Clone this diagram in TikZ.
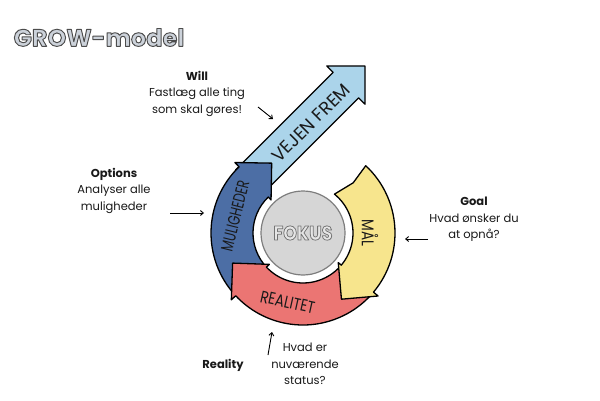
\documentclass[tikz,border=0pt]{standalone}
\usepackage{fontspec}
\setmainfont{Poppins}
\newfontfamily\handfont{Poppins}[FakeStretch=0.8]
\newfontfamily\narrowfont{Poppins}[FakeStretch=0.7]
\newfontfamily\fokfont{Poppins}[FakeStretch=0.88]
\usetikzlibrary{calc,arrows.meta}
\definecolor{lblue}{RGB}{171,212,234}
\definecolor{dblue}{RGB}{76,110,165}
\definecolor{rred}{RGB}{235,117,115}
\definecolor{yyel}{RGB}{247,229,141}
\definecolor{fokfill}{RGB}{214,214,214}
\definecolor{fokline}{RGB}{125,125,125}
\definecolor{foktext}{RGB}{230,230,230}
\definecolor{titlefill}{RGB}{204,210,218}
\definecolor{inkc}{RGB}{25,25,25}
% outlined text: fill in current colour, stroke in the given grey
\newcommand\strokedtext[3]{\special{pdf:literal direct 2 Tr #2 w 1 j #1 #1 #1 RG}#3\special{pdf:literal direct 0 Tr}}
\tikzset{
  ring/.style={draw=black, line width=1.3pt, line join=round},
  anno/.style={align=center, text=inkc, font=\fontsize{11.5}{16.5}\selectfont, inner sep=0pt},
  pointer/.style={draw=black, line width=0.9pt, -{Straight Barb[length=3pt,width=5pt]}},
  bandlabel/.style={text=inkc, inner sep=0pt, font=\handfont\fontsize{17}{17}\selectfont}
}
\begin{document}
\begin{tikzpicture}[x=1pt,y=1pt]
\useasboundingbox (0,0) rectangle (600,400);
\fill[white] (0,0) rectangle (600,400);
\coordinate (C) at (303,167);

% title
\node[text=titlefill, font=\fontsize{24}{24}\selectfont\bfseries] (title) at (99,362.5) {\strokedtext{0.3}{0.95}{GROW-model}};

% light blue arrow (VEJEN FREM)
\coordinate (T) at (365,334);
\coordinate (H) at ($(T)+(225:27)$);
\coordinate (B) at ($(T)+(225:165)$);
\draw[ring, fill=lblue] ($(B)+(135:18)$) -- ($(H)+(135:18)$) -- ($(H)+(135:27)$) -- (T)
  -- ($(H)+(315:27)$) -- ($(H)+(315:18)$) -- ($(B)+(315:18)$) -- cycle;

% dark blue arc (MULIGHEDER)
\draw[ring, fill=dblue] ($(C)+(223:92)$) arc[start angle=223,end angle=134,radius=92]
  -- ($(C)+(134:98)$) -- ($(C)+(134:72)+(44:26)$) -- ($(C)+(134:46)$)
  -- ($(C)+(134:50)$) arc[start angle=134,end angle=223,radius=50] -- cycle;

% red arc (REALITET)
\draw[ring, fill=rred] ($(C)+(320:92)$) arc[start angle=320,end angle=223,radius=92]
  -- ($(C)+(223:98)$) -- ($(C)+(223:72)+(133:26)$) -- ($(C)+(223:46)$)
  -- ($(C)+(223:50)$) arc[start angle=223,end angle=320,radius=50] -- cycle;

% yellow arc (MAL)
\draw[ring, fill=yyel] ($(C)+(47:92)$) arc[start angle=47,end angle=-40,radius=92]
  -- ($(C)+(-40:98)$) -- ($(C)+(-40:72)+(-130:26)$) -- ($(C)+(-40:46)$)
  -- ($(C)+(-40:50)$) arc[start angle=-40,end angle=51,radius=50]
  -- ($(C)+(45:71)$) -- cycle;

% focus circle
\node[circle, draw=fokline, line width=1.2pt, fill=fokfill, minimum size=84pt, inner sep=0pt,
  text=foktext, font=\fokfont\fontsize{20}{20}\selectfont\bfseries] (fokus) at (C) {\strokedtext{0.45}{0.75}{FOKUS}};

% labels on the arrows
\node[bandlabel, rotate=45, font=\fontsize{18}{18}\selectfont] (vejen) at (311,277) {VEJEN FREM};
\node[bandlabel, rotate=76, font=\narrowfont\fontsize{17}{17}\selectfont] (mulig) at ($(C)+(166:70)$) {MULIGHEDER};
\node[bandlabel, rotate=-12.5] (realitet) at ($(C)+(257.5:71)$) {REALITET};
\node[bandlabel, rotate=-90] (maal) at ($(C)+(0:67)$) {MÅL};

% annotations
\node[anno] (will) at (197,306.5) {\textbf{Will}\\Fastlæg alle ting\\som skal gøres!};
\node[anno] (options) at (114,209.3) {\textbf{Options}\\Analyser alle\\muligheder};
\node[anno] (goal) at (474,180.3) {\textbf{Goal}\\Hvad ønsker du\\at opnå?};
\node[anno] (reality) at (223,35) {\textbf{Reality}};
\node[anno] (realq) at (305,36) {Hvad er\\nuværende\\status?};

% pointers
\coordinate (willA) at (258,293); \coordinate (willB) at (273,281);
\coordinate (optA) at (170,187); \coordinate (optB) at (204,187);
\coordinate (goalA) at (428,161); \coordinate (goalB) at (405,161);
\coordinate (realA) at (268,45); \coordinate (realB) at (272,68);
\draw[pointer] (willA) -- (willB);
\draw[pointer] (optA) -- (optB);
\draw[pointer] (goalA) -- (goalB);
\draw[pointer] (realA) -- (realB);
\end{tikzpicture}
\end{document}
